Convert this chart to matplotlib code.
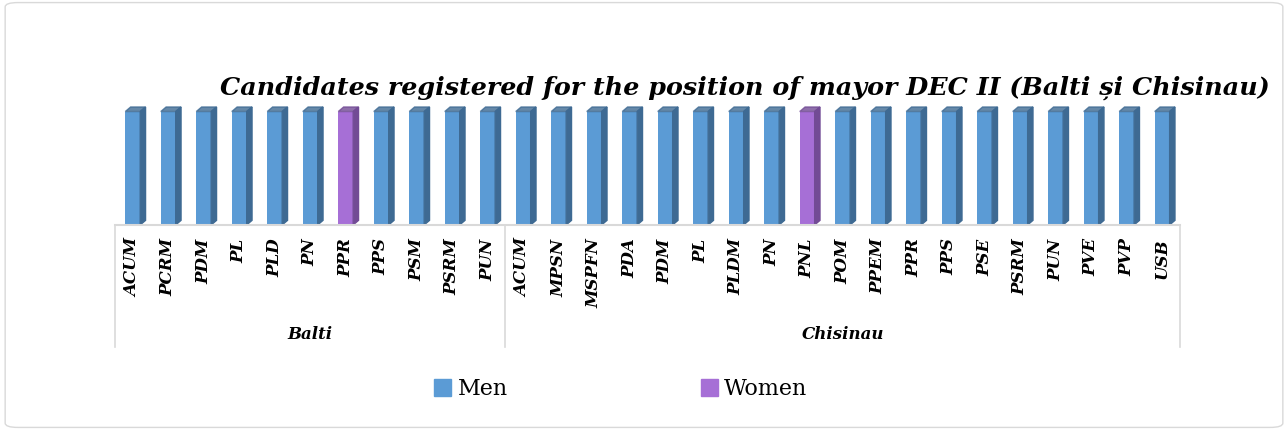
import matplotlib.pyplot as plt
from matplotlib.patches import Polygon, FancyBboxPatch, Patch
import numpy as np

# data
balti = ["ACUM", "PCRM", "PDM", "PL", "PLD", "PN", "PPR", "PPS", "PSM", "PSRM", "PUN"]
chisinau = ["ACUM", "MPSN", "MSPFN", "PDA", "PDM", "PL", "PLDM", "PN", "PNL", "POM",
            "PPEM", "PPR", "PPS", "PSE", "PSRM", "PUN", "PVE", "PVP", "USB"]
men_balti = [1, 1, 1, 1, 1, 1, 0, 1, 1, 1, 1]
women_balti = [0, 0, 0, 0, 0, 0, 1, 0, 0, 0, 0]
men_chisinau = [1, 1, 1, 1, 1, 1, 1, 1, 0, 1, 1, 1, 1, 1, 1, 1, 1, 1, 1]
women_chisinau = [0, 0, 0, 0, 0, 0, 0, 0, 1, 0, 0, 0, 0, 0, 0, 0, 0, 0, 0]

labels = balti + chisinau
men = np.array(men_balti + men_chisinau)
women = np.array(women_balti + women_chisinau)
n = len(labels)
x = np.arange(n) + 0.5

c_men, c_men_side = "#5B9BD5", "#3E6A93"
c_women, c_women_side = "#A66FD6", "#724B95"

fig = plt.figure(figsize=(12.88, 4.30), dpi=100)
fig.patches.append(FancyBboxPatch((0.004, 0.006), 0.992, 0.988, boxstyle="round,pad=0,rounding_size=0.01",
                                  transform=fig.transFigure, fill=False, ec="#D9D9D9", lw=1))
ax = fig.add_axes([0.0893, 0.477, 0.8268, 0.29])

w = 0.42
dx, dy = 0.15, 0.04
ax.bar(x, men, width=w, color=c_men, align="center", zorder=2)
ax.bar(x, women, width=w, bottom=men, color=c_women, align="center", zorder=2)

# fake 3D sides / tops
for xi, m, f in zip(x, men, women):
    total = m + f
    col, side = (c_men, c_men_side) if m else (c_women, c_women_side)
    r = xi + w / 2
    l = xi - w / 2
    ax.add_patch(Polygon([(r, 0), (r + dx, dy), (r + dx, total + dy), (r, total)],
                         closed=True, color=side, zorder=2))
    ax.add_patch(Polygon([(l, total), (l + dx, total + dy), (r + dx, total + dy), (r, total)],
                         closed=True, color=side, alpha=0.8, zorder=2))

ax.set_xlim(0, n)
ax.set_ylim(0, 1.1)
ax.axis("off")

# axis line
ax.plot([0, n], [0, 0], color="#D9D9D9", lw=1.5, clip_on=False)
# separators
for xs in [0, len(balti), n]:
    ax.plot([xs, xs], [0, -1.08], color="#D9D9D9", lw=1.2, clip_on=False)

for xi, lab in zip(x, labels):
    ax.text(xi, -0.12, lab, rotation=90, ha="center", va="top", fontsize=12,
            fontfamily="DejaVu Serif", fontweight="bold", fontstyle="italic")

ax.text(len(balti) / 2, -0.97, "Balti", ha="center", va="center", fontsize=12,
        fontfamily="DejaVu Serif", fontweight="bold", fontstyle="italic")
ax.text(len(balti) + len(chisinau) / 2, -0.97, "Chisinau", ha="center", va="center", fontsize=12,
        fontfamily="DejaVu Serif", fontweight="bold", fontstyle="italic")

fig.text(0.578, 0.795, "Candidates registered for the position of mayor DEC II (Balti și Chisinau)",
         ha="center", va="center", fontsize=18.3, fontfamily="DejaVu Serif",
         fontweight="bold", fontstyle="italic")

handles = [Patch(color=c_men, label="Men"), Patch(color=c_women, label="Women")]
fig.legend(handles=handles, loc="center", bbox_to_anchor=(0.482, 0.095), ncol=2, frameon=False,
           prop={"family": "DejaVu Serif", "size": 16}, handlelength=0.75, handleheight=0.75,
           handletextpad=0.3, columnspacing=8.7)

fig.savefig("out.png", dpi=100)
